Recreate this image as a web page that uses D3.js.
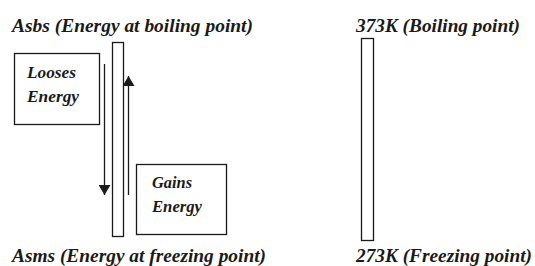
<!DOCTYPE html>
<html>
<head>
<meta charset="utf-8">
<script src="https://cdn.jsdelivr.net/npm/d3@7"></script>
<style>
  body { margin: 0; background: #fff; }
  text { font-family: "Liberation Serif", serif; font-weight: bold; font-style: italic; fill: #1a1a1a; }
</style>
</head>
<body>
<div id="chartDiv"></div>
<script>
;(function() {

	var width = 535;
	var height = 266;

	// temperature levels (K) spanned by each tube
	var levels = [273, 373];
	var leftLabels = ["Asms (Energy at freezing point)", "Asbs (Energy at boiling point)"];
	var rightLabels = ["273K (Freezing point)", "373K (Boiling point)"];
	var lossLines = ["Looses", "Energy"];
	var gainLines = ["Gains", "Energy"];

	var ink = "#1a1a1a";

	var svg = d3.select("#chartDiv").append("svg")
		.attr("width", width)
		.attr("height", height);

	// vertical scale: freezing at bottom, boiling at top
	var y = d3.scaleLinear()
		.domain(levels)
		.range([238, 40]);

	// arrow heads
	var defs = svg.append("defs");
	defs.append("marker")
		.attr("id", "head")
		.attr("viewBox", "0 0 10 12")
		.attr("refX", 10).attr("refY", 6)
		.attr("markerUnits", "userSpaceOnUse")
		.attr("markerWidth", 11).attr("markerHeight", 12)
		.attr("orient", "auto")
		.append("path")
			.attr("d", "M0,0 L10,6 L0,12 Z")
			.attr("fill", ink);

	// tubes, each spanning freezing to boiling
	var tubes = [
		{ x: 112, w: 11, pad: -2 },
		{ x: 361, w: 12, pad: 2 }
	];
	svg.selectAll(".tube")
		.data(tubes)
		.enter().append("rect")
			.attr("class", "tube")
			.attr("x", function(d) { return d.x + 0.5; })
			.attr("y", function(d) { return y(levels[1]) - d.pad + 0.5; })
			.attr("width", function(d) { return d.w; })
			.attr("height", function(d) { return y(levels[0]) - y(levels[1]) + 2 * d.pad; })
			.attr("fill", "none")
			.attr("stroke", ink)
			.attr("stroke-width", 1.3);

	// labels at the two levels
	function levelLabels(labels, x, widths) {
		svg.selectAll(null)
			.data(labels)
			.enter().append("text")
				.attr("x", x)
				.attr("y", function(d, i) { return i === 1 ? 32 : 262; })
				.attr("textLength", function(d, i) { return widths[i]; })
				.attr("lengthAdjust", "spacingAndGlyphs")
				.style("font-size", "18px")
				.text(function(d) { return d; });
	}
	levelLabels(leftLabels, 12, [254, 241]);
	levelLabels(rightLabels, 356, [176, 164]);

	// energy arrows: loss goes down, gain goes up
	var arrows = [
		{ x: 104.5, from: 64, to: 195 },
		{ x: 128.5, from: 195, to: 76 }
	];
	svg.selectAll(".arrow")
		.data(arrows)
		.enter().append("line")
			.attr("class", "arrow")
			.attr("x1", function(d) { return d.x; })
			.attr("x2", function(d) { return d.x; })
			.attr("y1", function(d) { return d.from; })
			.attr("y2", function(d) { return d.to; })
			.attr("stroke", ink)
			.attr("stroke-width", 1.3)
			.attr("marker-end", "url(#head)");

	// boxes with text
	function box(lines, x, yTop, w, h, tx, ty, widths) {
		svg.append("rect")
			.attr("x", x + 0.5).attr("y", yTop + 0.5)
			.attr("width", w).attr("height", h)
			.attr("fill", "none")
			.attr("stroke", ink)
			.attr("stroke-width", 1.3);
		svg.selectAll(null)
			.data(lines)
			.enter().append("text")
				.attr("x", tx)
				.attr("y", function(d, i) { return ty + i * 24; })
				.attr("textLength", function(d, i) { return widths[i]; })
				.attr("lengthAdjust", "spacingAndGlyphs")
				.style("font-size", "16px")
				.text(function(d) { return d; });
	}
	box(lossLines, 14, 53, 85, 71, 27, 78, [49, 52]);
	box(gainLines, 136, 164, 90, 70, 152, 188, [40, 50]);

})();
</script>
</body>
</html>
